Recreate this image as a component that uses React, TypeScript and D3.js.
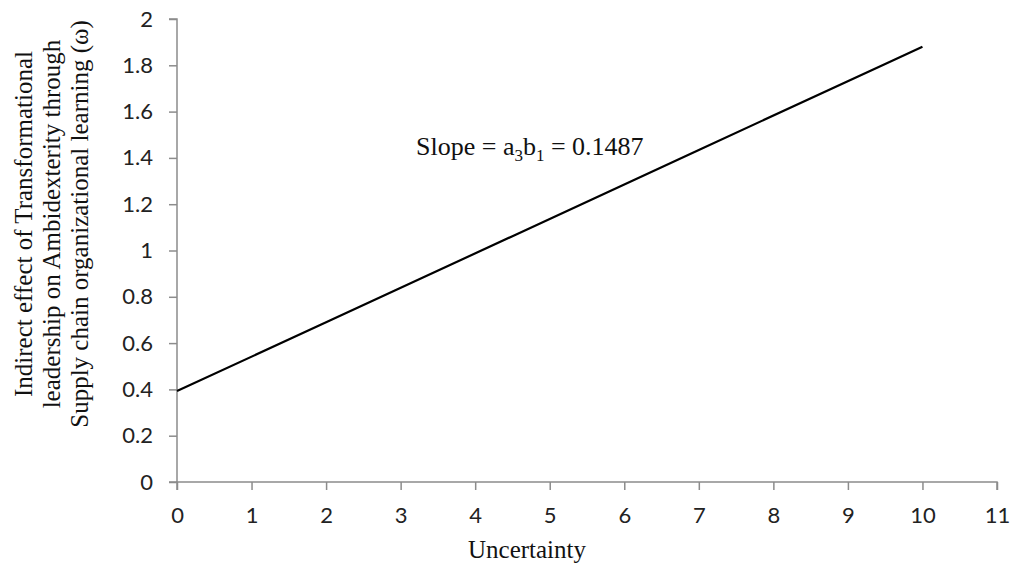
import React, { useRef, useEffect } from 'react';
import * as d3 from 'd3';

// data
const uncertainty = [0, 2, 4.5, 7, 9.5, 10];
const indirectEffect = [0.393, 0.690, 1.062, 1.434, 1.806, 1.880];
const xTicks = [0, 1, 2, 3, 4, 5, 6, 7, 8, 9, 10, 11];
const yTicks = [0, 0.2, 0.4, 0.6, 0.8, 1, 1.2, 1.4, 1.6, 1.8, 2];
const yLabelLines = [
  'Indirect effect of Transformational',
  'leadership on Ambidexterity through',
  'Supply chain organizational learning (ω)',
];

const App = () => {
  const ref = useRef<SVGSVGElement>(null);

  useEffect(() => {
    const svg = d3.select(ref.current);
    svg.selectAll('*').remove();

    const width = 1015;
    const height = 566;
    const margin = { top: 19, right: 18, bottom: 84, left: 177 };
    const axisColor = '#8c8c8c';
    const sans = 'Lato, "Open Sans", sans-serif';
    const serif = '"Liberation Serif", "Times New Roman", serif';

    const x = d3.scaleLinear().domain([0, 11]).range([margin.left, width - margin.right]);
    const y = d3.scaleLinear().domain([0, 2]).range([height - margin.bottom, margin.top]);

    svg.append('rect').attr('width', width).attr('height', height).attr('fill', '#fff');

    // y axis
    const yAxis = svg.append('g').attr('transform', `translate(${x(0)},0)`)
      .call(d3.axisLeft(y).tickValues(yTicks).tickSize(8).tickPadding(16)
        .tickFormat(d => String(d)));
    // x axis
    const xAxis = svg.append('g').attr('transform', `translate(0,${y(0)})`)
      .call(d3.axisBottom(x).tickValues(xTicks).tickSize(8).tickPadding(17)
        .tickFormat(d => String(d)));

    [yAxis, xAxis].forEach(a => {
      a.select('.domain').attr('stroke', axisColor).attr('stroke-width', 1.5);
      a.selectAll('.tick line').attr('stroke', axisColor).attr('stroke-width', 1.5);
      a.selectAll('.tick text').attr('fill', '#222').attr('font-family', sans).attr('font-size', 22);
    });
    yAxis.select('.domain').attr('d', `M-8,${y(2)}H0V${y(0)}H-8`);
    xAxis.select('.domain').attr('d', `M${x(0)},8V0H${x(11)}V8`);

    // line
    const line = d3.line<number>()
      .x((_, i) => x(uncertainty[i]))
      .y(d => y(d));
    svg.append('path')
      .datum(indirectEffect)
      .attr('fill', 'none')
      .attr('stroke', '#000')
      .attr('stroke-width', 2.2)
      .attr('d', line);

    // annotation
    const ann = svg.append('text')
      .attr('x', 416).attr('y', 155)
      .attr('font-family', serif).attr('font-size', 26).attr('fill', '#111');
    ann.append('tspan').text('Slope = a');
    ann.append('tspan').attr('font-size', 17).attr('dy', 6).text('3');
    ann.append('tspan').attr('dy', -6).text('b');
    ann.append('tspan').attr('font-size', 17).attr('dy', 6).text('1');
    ann.append('tspan').attr('dy', -6).text(' = 0.1487');

    // x label
    svg.append('text')
      .attr('x', 527).attr('y', 558)
      .attr('text-anchor', 'middle')
      .attr('font-family', serif).attr('font-size', 25).attr('fill', '#111')
      .text('Uncertainty');

    // y label
    const yl = svg.append('text')
      .attr('transform', 'translate(32,224) rotate(-90)')
      .attr('text-anchor', 'middle')
      .attr('font-family', serif).attr('font-size', 25).attr('fill', '#111');
    yLabelLines.forEach((t, i) => {
      yl.append('tspan').attr('x', 0).attr('dy', i === 0 ? 0 : 28).text(t);
    });
  }, []);

  return <svg ref={ref} width={1015} height={566} style={{ position: 'absolute', left: 0, top: 0 }} />;
};

export default App;
